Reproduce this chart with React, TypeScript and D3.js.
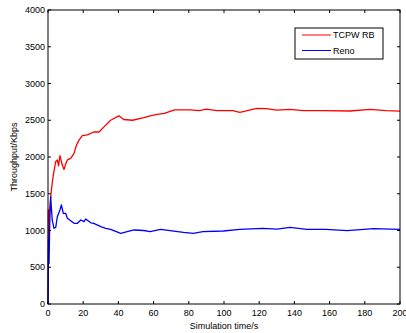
import * as d3 from "d3";
import { useEffect, useRef } from "react";

const redTime = [0, 0.2, 0.5, 0.8, 1.2, 1.8, 2.4, 3.2, 4.4, 5.3, 6, 6.8, 8, 9.1, 10, 11, 12.9, 14.8, 16, 17.6, 19.5, 22.3, 26, 29, 31.8, 35.6, 40.3, 43, 48, 54.5, 58, 62, 66, 72, 80.7, 86, 90, 96, 105, 109, 115, 118.6, 124, 130, 137.5, 145, 156, 171.6, 183, 192, 200];
const redValues = [0, 1280, 850, 1250, 1350, 1520, 1650, 1780, 1940, 1960, 1880, 2020, 1900, 1830, 1900, 1960, 1980, 2050, 2150, 2230, 2290, 2300, 2340, 2340, 2410, 2500, 2560, 2510, 2500, 2535, 2560, 2580, 2594, 2640, 2640, 2630, 2650, 2630, 2630, 2608, 2640, 2660, 2657, 2639, 2648, 2630, 2630, 2626, 2648, 2630, 2625];

const blueTime = [0, 0.3, 0.6, 1, 1.5, 2.4, 3.4, 4.4, 5.3, 6.8, 7.6, 8.7, 10, 11, 14.8, 16.7, 18.6, 20.5, 21.4, 24.3, 26, 30, 32.8, 35.6, 41.3, 45, 48.9, 54.5, 58, 64, 69.3, 77, 82.6, 88, 99.6, 109, 122, 130, 137.5, 147, 158, 170, 185, 200];
const blueValues = [0, 900, 550, 1100, 1460, 1143, 1030, 1043, 1188, 1279, 1347, 1234, 1234, 1166, 1098, 1098, 1143, 1120, 1157, 1104, 1098, 1052, 1030, 1016, 962, 984, 1007, 1000, 984, 1016, 998, 975, 962, 984, 993, 1016, 1030, 1020, 1043, 1016, 1016, 998, 1025, 1016];

const xTicks = [0, 20, 40, 60, 80, 100, 120, 140, 160, 180, 200];
const yTicks = [0, 500, 1000, 1500, 2000, 2500, 3000, 3500, 4000];
const legendNames = ["TCPW RB", "Reno"];
const colors = ["#ff0000", "#0000ff"];

export default function App() {
  const svgRef = useRef<SVGSVGElement>(null);
  const width = 406,
    height = 333,
    margin = { left: 48, top: 10, right: 6, bottom: 29 };

  useEffect(() => {
    const svg = d3.select(svgRef.current);
    svg.selectAll("*").remove();
    const font = "'Liberation Sans', Arial, sans-serif";

    const x = d3.scaleLinear().domain([0, 200]).range([margin.left, width - margin.right]);
    const y = d3.scaleLinear().domain([0, 4000]).range([height - margin.bottom, margin.top]);

    const line = d3
      .line<[number, number]>()
      .x((d) => x(d[0]))
      .y((d) => y(d[1]));

    const series = [
      { name: legendNames[0], data: redTime.map((t, i) => [t, redValues[i]] as [number, number]) },
      { name: legendNames[1], data: blueTime.map((t, i) => [t, blueValues[i]] as [number, number]) },
    ];

    series.forEach((s, i) => {
      svg
        .append("path")
        .attr("d", line(s.data))
        .attr("fill", "none")
        .attr("stroke", colors[i])
        .attr("stroke-width", 1.3)
        .attr("stroke-linejoin", "round");
    });

    // box
    svg
      .append("rect")
      .attr("x", x(0))
      .attr("y", y(4000))
      .attr("width", x(200) - x(0))
      .attr("height", y(0) - y(4000))
      .attr("fill", "none")
      .attr("stroke", "#000")
      .attr("stroke-width", 1);

    const ticks = svg.append("g").attr("stroke", "#000").attr("stroke-width", 1);
    xTicks.forEach((t) => {
      ticks.append("line").attr("x1", x(t)).attr("x2", x(t)).attr("y1", y(0)).attr("y2", y(0) - 3);
      ticks.append("line").attr("x1", x(t)).attr("x2", x(t)).attr("y1", y(4000)).attr("y2", y(4000) + 3);
    });
    yTicks.forEach((v) => {
      ticks.append("line").attr("x1", x(0)).attr("x2", x(0) + 3).attr("y1", y(v)).attr("y2", y(v));
      ticks.append("line").attr("x1", x(200)).attr("x2", x(200) - 3).attr("y1", y(v)).attr("y2", y(v));
    });

    svg
      .append("g")
      .selectAll("text")
      .data(xTicks)
      .join("text")
      .attr("x", (d) => x(d))
      .attr("y", y(0) + 12)
      .attr("text-anchor", "middle")
      .attr("font-family", font)
      .attr("font-size", 9)
      .text((d) => d);

    svg
      .append("g")
      .selectAll("text")
      .data(yTicks)
      .join("text")
      .attr("x", x(0) - 3)
      .attr("y", (d) => y(d) + 3)
      .attr("text-anchor", "end")
      .attr("font-family", font)
      .attr("font-size", 9)
      .text((d) => d);

    svg
      .append("text")
      .attr("x", (x(0) + x(200)) / 2)
      .attr("y", height - 4)
      .attr("text-anchor", "middle")
      .attr("font-family", font)
      .attr("font-size", 9)
      .text("Simulation time/s");

    svg
      .append("text")
      .attr("transform", `translate(17, ${(y(0) + y(4000)) / 2}) rotate(-90)`)
      .attr("text-anchor", "middle")
      .attr("font-family", font)
      .attr("font-size", 9)
      .text("Throughput/Kbps");

    // legend
    const lg = svg.append("g").attr("transform", "translate(295, 28)");
    lg.append("rect")
      .attr("width", 88)
      .attr("height", 31)
      .attr("fill", "#fff")
      .attr("stroke", "#000")
      .attr("stroke-width", 1);
    legendNames.forEach((name, i) => {
      const ly = 7 + i * 15.5;
      lg.append("line")
        .attr("x1", 7)
        .attr("x2", 36)
        .attr("y1", ly)
        .attr("y2", ly)
        .attr("stroke", colors[i])
        .attr("stroke-width", 1);
      lg.append("text")
        .attr("x", 38)
        .attr("y", ly + 3)
        .attr("font-family", font)
        .attr("font-size", 9)
        .text(name);
    });
  }, []);

  return (
    <svg
      ref={svgRef}
      width={width}
      height={height}
      style={{ position: "absolute", left: 0, top: 0, background: "#fff" }}
    />
  );
}
